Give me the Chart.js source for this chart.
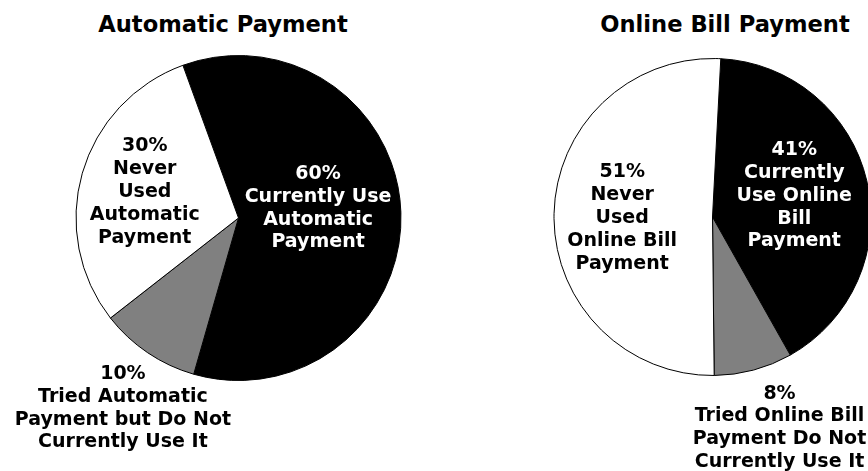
<!DOCTYPE html>
<html>
<head>
<meta charset="utf-8">
<script src="https://cdn.jsdelivr.net/npm/chart.js@4"></script>
<style>
  html, body { margin: 0; padding: 0; background: #fff; overflow: hidden; }
  body { width: 868px; height: 471px; position: relative; }
  .box { position: absolute; top: 0; }
  .titolo { position: absolute; top: 11px; line-height: 26px; font: bold 22.6px "DejaVu Sans", Verdana, sans-serif; color: #000; white-space: nowrap; transform: translateX(-50%); }
</style>
</head>
<body>
<div class="titolo" style="left:223px">Automatic Payment</div>
<div class="titolo" style="left:725px">Online Bill Payment</div>
<div class="box" style="left:0"><canvas id="graficoAuto" width="434" height="471"></canvas></div>
<div class="box" style="left:434px"><canvas id="graficoOnline" width="480" height="471"></canvas></div>
<script>
// Dati dei grafici
const categorie = ["Currently Use", "Tried but Do Not Currently Use", "Never Used"];
const valoriAuto = [60, 10, 30];
const valoriOnline = [41, 8, 51];
const testiAuto = [
    ["Currently Use", "Automatic", "Payment"],
    ["Tried Automatic", "Payment but Do Not", "Currently Use It"],
    ["Never", "Used", "Automatic", "Payment"]
];
const testiOnline = [
    ["Currently", "Use Online", "Bill", "Payment"],
    ["Tried Online Bill", "Payment Do Not", "Currently Use It"],
    ["Never", "Used", "Online Bill", "Payment"]
];
const colori = ["#000000", "#808080", "#ffffff"];
const coloriTesto = ["#ffffff", "#000000", "#000000"];

// Plugin per le etichette dentro e fuori le fette
const etichettePlugin = {
    id: "etichette",
    afterDatasetsDraw(chart, args, opts) {
        const ctx = chart.ctx;
        const archi = chart.getDatasetMeta(0).data;
        const valori = chart.data.datasets[0].data;
        ctx.save();
        ctx.font = "bold 19px 'DejaVu Sans', Verdana, sans-serif";
        ctx.textAlign = "center";
        ctx.textBaseline = "middle";
        archi.forEach((arco, i) => {
            const p = arco.getProps(["x", "y", "startAngle", "endAngle", "outerRadius"], true);
            const medio = (p.startAngle + p.endAngle) / 2;
            const pos = opts.posizioni[i];
            const cx = p.x + Math.cos(medio) * p.outerRadius * pos.f + pos.dx;
            const cy = p.y + Math.sin(medio) * p.outerRadius * pos.f + pos.dy;
            const righe = [valori[i] + "%"].concat(opts.testi[i]);
            const h = 22.8;
            const y0 = cy - (righe.length - 1) * h / 2;
            ctx.fillStyle = coloriTesto[i];
            righe.forEach((r, k) => ctx.fillText(r, cx, y0 + k * h));
        });
        ctx.restore();
    }
};

function creaTorta(id, valori, testi, rotazione, padding, posizioni) {
    const ctx = document.getElementById(id).getContext("2d");
    return new Chart(ctx, {
        type: "pie",
        data: {
            labels: categorie,
            datasets: [{
                data: valori,
                backgroundColor: colori,
                borderColor: "#000000",
                borderWidth: 1
            }]
        },
        options: {
            responsive: false,
            animation: false,
            devicePixelRatio: 1,
            rotation: rotazione,
            layout: { padding: padding },
            plugins: {
                legend: { display: false },
                tooltip: { enabled: false },
                etichette: { testi: testi, posizioni: posizioni }
            }
        },
        plugins: [etichettePlugin]
    });
}

creaTorta("graficoAuto", valoriAuto, testiAuto, -20,
    { left: 75, right: 32, top: 55, bottom: 90 },
    [{ f: 0.49, dx: 0, dy: -7 }, { f: 1.36, dx: 8, dy: 7 }, { f: 0.6, dx: 0, dy: 1 }]);

creaTorta("graficoOnline", valoriOnline, testiOnline, 3,
    { left: 119, right: 42, top: 58, bottom: 95 },
    [{ f: 0.53, dx: 0, dy: -2 }, { f: 1.39, dx: 10, dy: -2 }, { f: 0.57, dx: 0, dy: 3 }]);
</script>
</body>
</html>
